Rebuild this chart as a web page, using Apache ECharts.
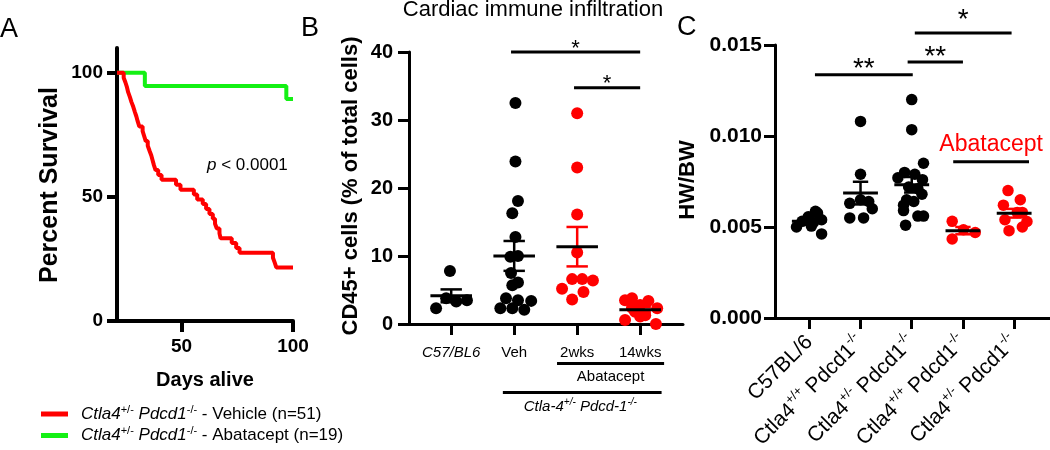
<!DOCTYPE html>
<html><head><meta charset="utf-8">
<script src="https://cdn.jsdelivr.net/npm/echarts@6/dist/echarts.min.js"></script>
<style>html,body{margin:0;padding:0;background:#fff}#c{width:1050px;height:450px}</style>
</head><body><div id="c"></div>
<script>
// ---------- Panel A: Kaplan-Meier survival ----------
const survDaysVehicle = [21,24,24.8,25.5,26,26.8,27.5,28.3,29,29.7,30.3,31,32.5,33.2,33.9,34.8,35.6,36.4,37,37.6,38.3,39.5,41,47.5,49.5,55.5,57,59.5,61,62.5,64,65,65.8,67,67.5,72.5,74.5,76,91,91.8,92.5,100];
const survPctVehicle  = [100,98.0,96.1,94.1,92.2,90.2,88.2,86.3,84.3,82.4,80.4,78.4,76.5,74.5,72.5,70.6,68.6,66.7,64.7,62.7,60.8,58.8,56.9,54.9,52.9,51.0,49.0,47.1,45.1,43.1,41.2,39.2,37.3,35.3,33.3,31.4,29.4,27.5,25.5,23.5,21.6,21.6];
const survDaysAbatacept = [21,33.5,97,100];
const survPctAbatacept  = [100,94.7,89.5,89.5];
const survTicksX = [50,100];
const survTicksY = [0,50,100];

// ---------- Panel B: CD45+ cells (% of total cells) ----------
const infilCategories = ['C57/BL6','Veh','2wks','14wks'];
const infilC57   = [7.8,2.3,3.8,3.3,3.5];
const infilC57J  = [-0.02,-0.24,-0.08,0.08,0.25];
const infilVeh   = [32.5,23.9,18.1,16.3,12.8,9.9,10.0,7.5,6.1,5.7,3.8,3.5,3.4,2.3,2.3,2.1];
const infilVehJ  = [0.02,0.02,0.06,-0.03,0.02,-0.06,0.06,-0.05,0.06,-0.03,-0.13,0.06,0.27,-0.22,-0.03,0.16];
const infil2wk   = [31.0,23.0,16.1,10.5,6.6,6.6,6.4,5.2,4.7,3.6];
const infil2wkJ  = [0,0,0,0,-0.08,0.08,0.25,-0.24,0.1,-0.08];
const infil14wk  = [3.5,3.8,3.4,2.8,2.3,2.4,1.8,1.3,0.6,1.1,0.0];
const infil14wkJ = [-0.24,-0.13,0.13,0,0.27,-0.13,-0.08,0.08,-0.24,0,0.25];

// ---------- Panel C: HW/BW ----------
const hwCategories = ['C57BL/6','Ctla4+/+ Pdcd1-/-','Ctla4+/- Pdcd1-/-','Ctla4+/+ Pdcd1-/-','Ctla4+/- Pdcd1-/-'];
const hwC57    = [0.00500,0.00531,0.00556,0.00586,0.00577,0.00540,0.00505,0.00525,0.00462];
const hwC57J   = [-0.25,-0.14,-0.02,0.12,0.16,0.24,0.04,0.08,0.24];
const hwWt     = [0.0108,0.0079,0.0063,0.0065,0.0064,0.0060,0.0055,0.0055];
const hwWtJ    = [0,0,-0.21,0,0.16,0.23,-0.21,0.06];
const hwHet    = [0.0120,0.01035,0.0085,0.0080,0.0077,0.0079,0.0076,0.0072,0.0071,0.0068,0.0065,0.0064,0.0062,0.0059,0.0056,0.0056,0.0051];
const hwHetJ   = [0,0,0.23,-0.14,-0.27,0.06,0.21,-0.06,0.12,0.2,-0.1,0.04,-0.16,-0.16,0.23,0.12,-0.12];
const hwWtAba  = [0.00531,0.00485,0.00470,0.00434];
const hwWtAbaJ = [-0.21,0.01,0.24,-0.21];
const hwHetAba = [0.0070,0.0065,0.0062,0.0058,0.0058,0.0054,0.0053,0.0050,0.0048];
const hwHetAbaJ= [-0.12,0.12,-0.21,0.06,0.16,-0.18,0.25,0.16,-0.1];

// significance annotations [x1, x2, y, label]
const sigB = [[0.95,3.0,40.0,'*'],[1.95,3.0,34.75,'*']];
const sigC = [[0.11,2.02,0.01337,'**'],[1.92,3.0,0.01407,'**'],[2.06,3.95,0.01566,'*']];

const RED = '#ff0000', GREEN = '#14f014', BLACK = '#000';
const FONT = 'Liberation Sans, Arial, Helvetica, sans-serif';

function stats(a){const n=a.length;const m=a.reduce((s,v)=>s+v,0)/n;const sd=Math.sqrt(a.reduce((s,v)=>s+(v-m)*(v-m),0)/(n-1));return [m,sd/Math.sqrt(n)];}
function pts(vals,jit,g){return vals.map((v,i)=>[g+jit[i],v]);}
function zip(a,b){return a.map((v,i)=>[v,b[i]]);}

function meanSem(idx, groups, halfW, capW){
  return {
    type:'custom', xAxisIndex:idx, yAxisIndex:idx, z:5, silent:true, clip:false,
    data: groups.map(g=>{const s=stats(g.v);return [g.x,s[0],s[1],g.red?1:0];}),
    renderItem:(params,api)=>{
      const x=api.value(0), m=api.value(1), s=api.value(2), red=api.value(3);
      const col = red?RED:BLACK;
      const top=api.coord([x,m+s]), bot=api.coord([x,m-s]);
      const cl=api.coord([x-capW,m])[0], cr=api.coord([x+capW,m])[0];
      const ml=api.coord([x-halfW,m]), mr=api.coord([x+halfW,m]);
      return {type:'group',children:[
        {type:'line',shape:{x1:top[0],y1:top[1],x2:bot[0],y2:bot[1]},style:{stroke:col,lineWidth:2.5}},
        {type:'line',shape:{x1:cl,y1:top[1],x2:cr,y2:top[1]},style:{stroke:col,lineWidth:2.5}},
        {type:'line',shape:{x1:cl,y1:bot[1],x2:cr,y2:bot[1]},style:{stroke:col,lineWidth:2.5}},
        {type:'line',shape:{x1:ml[0],y1:ml[1],x2:mr[0],y2:mr[1]},style:{stroke:BLACK,lineWidth:3}}
      ]};
    }
  };
}

function axisCommon(w){
  return {
    axisLine:{show:true,onZero:false,lineStyle:{color:BLACK,width:w}},
    axisTick:{show:true,length:11,lineStyle:{color:BLACK,width:w}},
    splitLine:{show:false}
  };
}
const tickFont = {color:BLACK,fontFamily:FONT,fontWeight:'bold'};

const legendText = {
  Vehicle:'{i0|Ctla4}{s|+/-}{i| Pdcd1}{s|-/-}{n| - Vehicle (n=51)}',
  Abatacept:'{i0|Ctla4}{s|+/-}{i| Pdcd1}{s|-/-}{n| - Abatacept (n=19)}'
};

function hwLabel(v){
  const t = hwCategories[Math.round(v)];
  if(t===undefined) return '';
  const m = t.match(/^(Ctla4)(\S+) (Pdcd1)(\S+)$/);
  if(!m) return '{t|'+t+'}';
  return '{t|'+m[1]+'}{s|'+m[2]+'}{t| '+m[3]+'}{s|'+m[4]+'}';
}

const chart = echarts.init(document.getElementById('c'), null, {renderer:'canvas'});
const option = {
  animation:false,
  backgroundColor:'#fff',
  textStyle:{fontFamily:FONT},
  grid:[
    {left:117,top:48,width:176,height:273,containLabel:false,outerBoundsMode:'none'},
    {left:409,top:52,width:274,height:272,containLabel:false,outerBoundsMode:'none'},
    {left:775,top:45,width:275,height:273,containLabel:false,outerBoundsMode:'none'}
  ],
  xAxis:[
    Object.assign({type:'value',gridIndex:0,min:21,max:100,
      axisLabel:Object.assign({customValues:survTicksX,fontSize:19,margin:16},tickFont)},axisCommon(4),
      {axisTick:{show:true,length:11,customValues:survTicksX,lineStyle:{color:BLACK,width:4}}}),
    Object.assign({type:'value',gridIndex:1,min:-0.67,max:3.68,
      axisLabel:{customValues:[0,1,2,3],margin:21,color:BLACK,fontFamily:FONT,fontSize:15,
        formatter:v=>{const t=infilCategories[Math.round(v)];return Math.round(v)===0?'{it|'+t+'}':'{n|'+t+'}';},
        rich:{it:{fontStyle:'italic',fontSize:15,fontFamily:FONT,color:BLACK},n:{fontSize:15,fontFamily:FONT,color:BLACK}}}},
      axisCommon(3),{axisTick:{show:true,length:11,customValues:[0,1,2,3],lineStyle:{color:BLACK,width:3}}}),
    Object.assign({type:'value',gridIndex:2,min:-0.67,max:4.7,
      axisLabel:{customValues:[0,1,2,3,4],margin:21,rotate:45,color:BLACK,fontFamily:FONT,fontSize:21,
        formatter:hwLabel,
        rich:{t:{fontSize:21,fontFamily:FONT,color:BLACK,lineHeight:27},s:{fontSize:13,fontFamily:FONT,color:BLACK,verticalAlign:'top',lineHeight:13}}}},
      axisCommon(3),{axisTick:{show:true,length:11,customValues:[0,1,2,3,4],lineStyle:{color:BLACK,width:3}}})
  ],
  yAxis:[
    Object.assign({type:'value',gridIndex:0,min:0,max:110,
      axisLabel:Object.assign({customValues:survTicksY,fontSize:19,margin:14},tickFont)},axisCommon(4),
      {axisTick:{show:true,length:10,customValues:survTicksY,lineStyle:{color:BLACK,width:4}}}),
    Object.assign({type:'value',gridIndex:1,min:0,max:40,interval:10,
      axisLabel:Object.assign({fontSize:20,margin:16},tickFont)},axisCommon(3)),
    Object.assign({type:'value',gridIndex:2,min:0,max:0.015,interval:0.005,
      axisLabel:Object.assign({fontSize:21,margin:13,formatter:v=>v.toFixed(3)},tickFont)},axisCommon(3))
  ],
  legend:{
    orient:'vertical',left:36,top:399,itemWidth:27,itemHeight:5,icon:'rect',itemGap:3,selectedMode:false,
    data:['Vehicle','Abatacept'],
    formatter:name=>legendText[name],
    textStyle:{color:BLACK,fontFamily:FONT,fontSize:17,
      rich:{
        i0:{fontStyle:'italic',fontSize:17,fontFamily:FONT,color:BLACK,padding:[0,0,0,8],lineHeight:20},
        i:{fontStyle:'italic',fontSize:17,fontFamily:FONT,color:BLACK,lineHeight:20},
        s:{fontSize:11,fontFamily:FONT,color:BLACK,verticalAlign:'top',lineHeight:11},
        n:{fontSize:17,fontFamily:FONT,color:BLACK,lineHeight:20}
      }}
  },
  series:[
    {name:'Abatacept',type:'line',xAxisIndex:0,yAxisIndex:0,step:'end',showSymbol:false,symbol:'none',
      data:zip(survDaysAbatacept,survPctAbatacept),lineStyle:{color:GREEN,width:4},itemStyle:{color:GREEN},z:2},
    {name:'Vehicle',type:'line',xAxisIndex:0,yAxisIndex:0,step:'end',showSymbol:false,symbol:'none',
      data:zip(survDaysVehicle,survPctVehicle),lineStyle:{color:RED,width:4},itemStyle:{color:RED},z:3},
    {type:'scatter',xAxisIndex:1,yAxisIndex:1,symbolSize:12,clip:false,itemStyle:{color:BLACK,opacity:1},
      data:pts(infilC57,infilC57J,0).concat(pts(infilVeh,infilVehJ,1)),z:3},
    {type:'scatter',xAxisIndex:1,yAxisIndex:1,symbolSize:12,clip:false,itemStyle:{color:RED,opacity:1},
      data:pts(infil2wk,infil2wkJ,2).concat(pts(infil14wk,infil14wkJ,3)),z:3},
    meanSem(1,[{x:0,v:infilC57},{x:1,v:infilVeh},{x:2,v:infil2wk,red:true},{x:3,v:infil14wk,red:true}],0.33,0.17),
    {type:'scatter',xAxisIndex:2,yAxisIndex:2,symbolSize:11.5,clip:false,itemStyle:{color:BLACK,opacity:1},
      data:pts(hwC57,hwC57J,0).concat(pts(hwWt,hwWtJ,1),pts(hwHet,hwHetJ,2)),z:3},
    {type:'scatter',xAxisIndex:2,yAxisIndex:2,symbolSize:11.5,clip:false,itemStyle:{color:RED,opacity:1},
      data:pts(hwWtAba,hwWtAbaJ,3).concat(pts(hwHetAba,hwHetAbaJ,4)),z:3},
    meanSem(2,[{x:0,v:hwC57},{x:1,v:hwWt},{x:2,v:hwHet},{x:3,v:hwWtAba,red:true},{x:4,v:hwHetAba,red:true}],0.34,0.15)
  ]
};
chart.setOption(option);

// ---------- annotations placed through the axes' scales ----------
const toB = (x,y)=>chart.convertToPixel({gridIndex:1},[x,y]);
const toC = (x,y)=>chart.convertToPixel({gridIndex:2},[x,y]);
const g = [];
function txt(x,y,text,o){g.push({type:'text',x:x,y:y,rotation:o.rot||0,silent:true,style:Object.assign({text:text,fill:BLACK,fontFamily:FONT,align:'center',verticalAlign:'middle'},o.s)});}
function seg(p1,p2,w,col){g.push({type:'line',silent:true,shape:{x1:p1[0],y1:p1[1],x2:p2[0],y2:p2[1]},style:{stroke:col||BLACK,lineWidth:w}});}

txt(0,30,'A',{s:{fontSize:27,align:'left'}});
txt(301,29,'B',{s:{fontSize:27,align:'left'}});
txt(677,28,'C',{s:{fontSize:27,align:'left'}});
txt(533,10,'Cardiac immune infiltration',{s:{fontSize:22}});
txt(50,185,'Percent Survival',{rot:Math.PI/2,s:{fontSize:25,fontWeight:'bold'}});
txt(205,380,'Days alive',{s:{fontSize:20,fontWeight:'bold'}});
txt(351,186,'CD45+ cells (% of total cells)',{rot:Math.PI/2,s:{fontSize:22,fontWeight:'bold'}});
txt(688,180,'HW/BW',{rot:Math.PI/2,s:{fontSize:22,fontWeight:'bold'}});
g.push({type:'text',x:207,y:165,silent:true,style:{text:'{i|p}{n| < 0.0001}',align:'left',verticalAlign:'middle',
  rich:{i:{fontStyle:'italic',fontSize:17,fontFamily:FONT,fill:BLACK},n:{fontSize:17,fontFamily:FONT,fill:BLACK}}}});

sigB.forEach(s=>{const a=toB(s[0],s[2]),b=toB(s[1],s[2]);seg(a,b,3);txt((a[0]+b[0])/2,a[1]-3.5,s[3],{s:{fontSize:22}});});
sigC.forEach((s,i)=>{const a=toC(s[0],s[2]),b=toC(s[1],s[2]);seg(a,b,3);txt((a[0]+b[0])/2,a[1]-(i===2?13:5),s[3],{s:{fontSize:28}});});

// Abatacept group bar in C
{const a=toC(2.81,0.00859),b=toC(4.29,0.00859);seg(a,b,3);txt((a[0]+b[0])/2,a[1]-17,'Abatacept',{s:{fontSize:23,fill:RED}});}

// group bars under panel B axis
{const y0=toB(0,0)[1];
 const a=toB(1.68,0)[0],b=toB(3.38,0)[0];seg([a,y0+39.5],[b,y0+39.5],3);
 txt((a+b)/2,y0+53,'Abatacept',{s:{fontSize:15}});
 const c=toB(0.82,0)[0],d=toB(3.34,0)[0];seg([c,y0+68.5],[d,y0+68.5],3);
 g.push({type:'text',x:toB(2.05,0)[0],y:y0+83,silent:true,style:{text:'{i|Ctla-4}{s|+/-}{i| Pdcd-1}{s|-/-}',align:'center',verticalAlign:'middle',
   rich:{i:{fontStyle:'italic',fontSize:15,fontFamily:FONT,fill:BLACK,lineHeight:19},s:{fontStyle:'italic',fontSize:10,fontFamily:FONT,fill:BLACK,verticalAlign:'top',lineHeight:10}}}});
}
chart.setOption({graphic:g});
</script></body></html>
